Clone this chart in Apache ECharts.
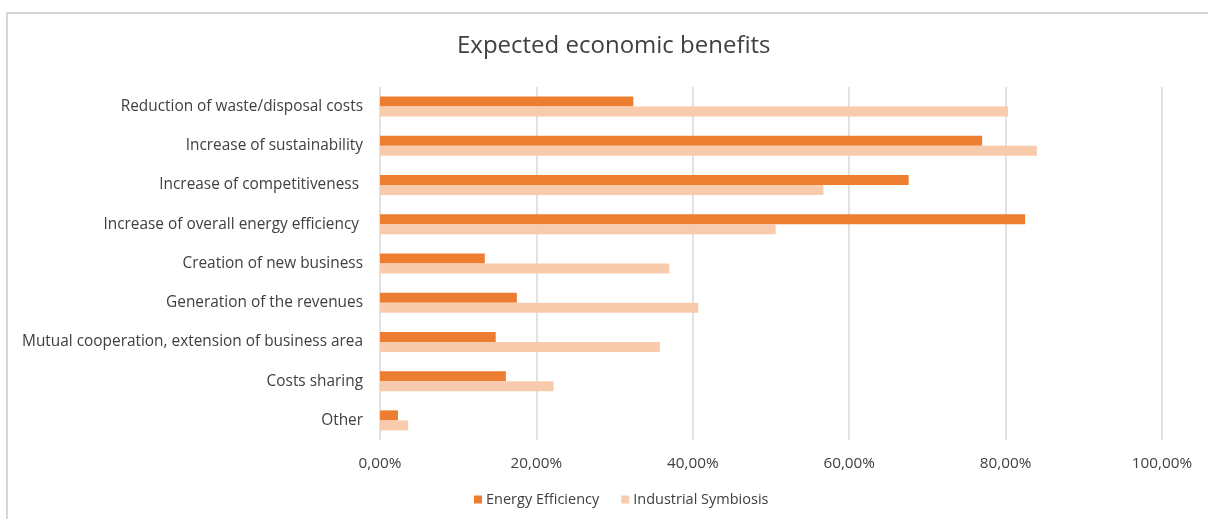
<!DOCTYPE html>
<html>
<head>
<meta charset="utf-8">
<script src="https://cdn.jsdelivr.net/npm/echarts@6/dist/echarts.min.js"></script>
<style>
  html, body { margin: 0; padding: 0; background: #ffffff; }
  #frame { position: absolute; left: 6px; top: 12px; right: -2px; bottom: -2px; border: 1px solid #d6d6d6; border-width: 2px 0 0 2px; }
  #chart { position: absolute; left: 0; top: 0; width: 1208px; height: 519px; }
</style>
</head>
<body>
<div id="frame"></div>
<div id="chart"></div>
<script>
// Benefit categories, top to bottom
const categories = [
  'Reduction of waste/disposal costs',
  'Increase of sustainability',
  'Increase of competitiveness ',
  'Increase of overall energy efficiency ',
  'Creation of new business',
  'Generation of the revenues',
  'Mutual cooperation, extension of business area',
  'Costs sharing',
  'Other'
];
// Share of respondents (%)
const energyEfficiency = [32.4, 77.0, 67.6, 82.5, 13.4, 17.5, 14.8, 16.1, 2.3];
const industrialSymbiosis = [80.3, 84.0, 56.7, 50.6, 37.0, 40.7, 35.8, 22.2, 3.6];
const seriesNames = ['Energy Efficiency', 'Industrial Symbiosis'];

const font = 'Open Sans, Noto Sans, sans-serif';
const chart = echarts.init(document.getElementById('chart'), null, { renderer: 'canvas' });
chart.setOption({
  backgroundColor: 'transparent',
  animation: false,
  title: {
    text: 'Expected economic benefits',
    left: 452,
    top: 29,
    textStyle: { fontFamily: font, fontSize: 24, fontWeight: 'normal', color: '#404040' }
  },
  legend: {
    bottom: 7,
    left: 469,
    itemWidth: 8,
    itemHeight: 8,
    itemGap: 22,
    icon: 'rect',
    textStyle: { fontFamily: font, fontSize: 14.5, color: '#404040', padding: [0, 0, 0, -1] },
    data: seriesNames
  },
  grid: { left: 380, right: 46, top: 87, bottom: 79, containLabel: false },
  xAxis: {
    type: 'value',
    min: 0,
    max: 100,
    interval: 20,
    axisLine: { show: false },
    axisTick: { show: false },
    axisLabel: {
      fontFamily: font, fontSize: 15.3, color: '#404040', margin: 16,
      formatter: v => v.toFixed(2).replace('.', ',') + '%'
    },
    splitLine: { lineStyle: { color: '#d9d9d9', width: 1.5 } }
  },
  yAxis: {
    type: 'category',
    inverse: true,
    data: categories,
    axisLine: { show: false },
    axisTick: { show: false },
    axisLabel: { fontFamily: font, fontSize: 15.4, color: '#404040', margin: 17 }
  },
  series: [
    {
      name: seriesNames[0], type: 'bar', data: energyEfficiency,
      barGap: '0%', barCategoryGap: '49%',
      itemStyle: { color: '#ed7d31' }
    },
    {
      name: seriesNames[1], type: 'bar', data: industrialSymbiosis,
      barGap: '0%', barCategoryGap: '49%',
      itemStyle: { color: '#f8cbad' }
    }
  ]
});
</script>
</body>
</html>
